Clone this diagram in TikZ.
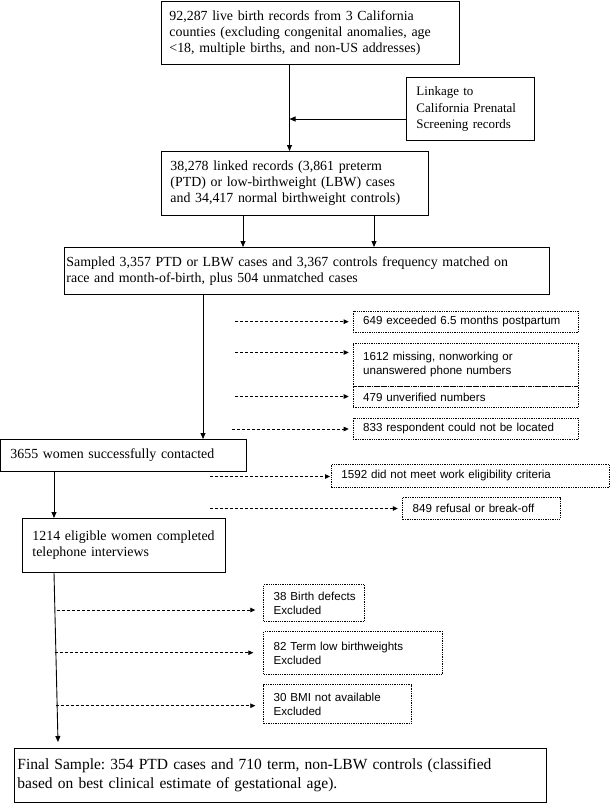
\documentclass[tikz,border=0pt]{standalone}
\usepackage{fontspec}
\setmainfont{Liberation Serif}
\newfontfamily\sansf{Liberation Sans}
\usetikzlibrary{arrows.meta,calc}
\frenchspacing
\tikzset{
  box/.style={draw, line width=0.9pt, anchor=north west, inner ysep=0pt, align=left,
    font=\fontsize{13.9}{16}\selectfont},
  xbox/.style={draw, dash pattern=on 1.3pt off 1pt, line width=0.8pt, anchor=north west,
    inner ysep=0pt, inner xsep=10pt, align=left, font=\sansf\fontsize{11.6}{14}\selectfont},
  arr/.style={line width=0.9pt, -{Triangle[length=6pt,width=5pt]}},
  darr/.style={line width=0.8pt, dash pattern=on 3pt off 2pt, -{Triangle[length=5pt,width=4.5pt]}},
}
\begin{document}
\begin{tikzpicture}[x=1pt,y=1pt]
\useasboundingbox (0,0) rectangle (611,-803);
% main boxes
\node[box, inner xsep=8pt, text width=282pt, minimum height=63pt] (b1) at (161,-1)
  {92,287 live birth records from 3 California\\counties (excluding congenital anomalies, age\\<18, multiple births, and non-US addresses)};
\node[box, inner xsep=10pt, text width=108pt, minimum height=63pt, font=\fontsize{13}{16.5}\selectfont] (link) at (406,-77)
  {Linkage to\\California Prenatal\\Screening records};
\node[box, inner xsep=9pt, text width=249pt, minimum height=64pt] (b2) at (161,-151)
  {38,278 linked records (3,861 preterm\\(PTD) or low-birthweight (LBW) cases\\and 34,417 normal birthweight controls)};
\node[box, inner xsep=2pt, text width=481pt, minimum height=47pt] (b3) at (64,-247)
  {Sampled 3,357 PTD or LBW cases and 3,367 controls frequency matched on\\race and month-of-birth, plus 504 unmatched cases};
\node[box, inner xsep=10pt, text width=226pt, minimum height=32pt] (c3655) at (0,-439)
  {3655 women successfully contacted};
\node[box, inner xsep=10pt, text width=183pt, minimum height=54pt] (b1214) at (22,-518)
  {1214 eligible women completed\\telephone interviews\\[7pt]};
\node[box, inner xsep=3pt, text width=526pt, minimum height=54pt, font=\fontsize{15.5}{18.5}\selectfont] (final) at (14,-748)
  {Final Sample: 354 PTD cases and 710 term, non-LBW controls (classified\\based on best clinical estimate of gestational age).};
% dotted exclusion boxes
\node[xbox, text width=205pt, minimum height=21.6pt] (x649) at (352.7,-310.7) {649 exceeded 6.5 months postpartum};
\node[xbox, text width=205pt, minimum height=43.3pt] (x1612) at (352.7,-342.7) {1612 missing, nonworking or\\unanswered phone numbers};
\node[xbox, text width=205pt, minimum height=21pt] (x479) at (352.7,-386) {479 unverified numbers};
\node[xbox, text width=205pt, minimum height=21.6pt] (x833) at (352.7,-417.7) {833 respondent could not be located};
\node[xbox, text width=258pt, minimum height=22.7pt] (x1592) at (331,-464) {1592 did not meet work eligibility criteria};
\node[xbox, text width=137.7pt, minimum height=22pt] (x849) at (402.3,-496.7) {849 refusal or break-off};
\node[xbox, text width=81pt, minimum height=36.4pt] (x38) at (263.3,-584.3) {\mbox{38 Birth defects}\\Excluded};
\node[xbox, text width=158.4pt, minimum height=43.3pt] (x82) at (263.3,-631) {82 Term low birthweights\\Excluded\\[3pt]};
\node[xbox, text width=127.7pt, minimum height=39pt] (x30) at (263.3,-684.3) {30 BMI not available\\Excluded};
% solid connectors
\coordinate (j) at (289.5,-119);
\coordinate (p1) at (243,0);
\coordinate (p2) at (374,0);
\coordinate (p3) at (203,0);
\coordinate (p4) at (54,0);
\draw[arr] (b1.south -| j) -- (b2.north -| j);
\draw[arr] (link.west |- j) -- (j);
\draw[arr] (b2.south -| p1) -- (b3.north -| p1);
\draw[arr] (b2.south -| p2) -- (b3.north -| p2);
\draw[arr] (b3.south -| p3) -- (c3655.north -| p3);
\draw[arr] (c3655.south -| p4) -- (b1214.north -| p4);
\draw[arr] ([xshift=32pt]b1214.south west) -- ([xshift=44pt,yshift=6pt]final.north west);
% dashed connectors
\coordinate (d1) at (235,-321.7);
\coordinate (d2) at (235,-352.5);
\coordinate (d3) at (235,-396.5);
\coordinate (d4) at (232,-429);
\coordinate (d5) at (210,-476.5);
\coordinate (d6) at (210,-508.5);
\coordinate (d7) at (56.7,-610);
\coordinate (d8) at (55,-652.7);
\coordinate (d9) at (55.5,-705.7);
\draw[darr, shorten >=4pt] (d1) -- (d1 -| x649.west);
\draw[darr, shorten >=4pt] (d2) -- (d2 -| x1612.west);
\draw[darr, shorten >=4pt] (d3) -- (d3 -| x479.west);
\draw[darr, shorten >=4pt] (d4) -- (d4 -| x833.west);
\draw[darr, shorten >=1pt] (d5) -- (d5 -| x1592.west);
\draw[darr, shorten >=4.5pt] (d6) -- (d6 -| x849.west);
\draw[darr, shorten >=8pt] (d7) -- (d7 -| x38.west);
\draw[darr, shorten >=10pt] (d8) -- (d8 -| x82.west);
\draw[darr, shorten >=8pt] (d9) -- (d9 -| x30.west);
\end{tikzpicture}
\end{document}
